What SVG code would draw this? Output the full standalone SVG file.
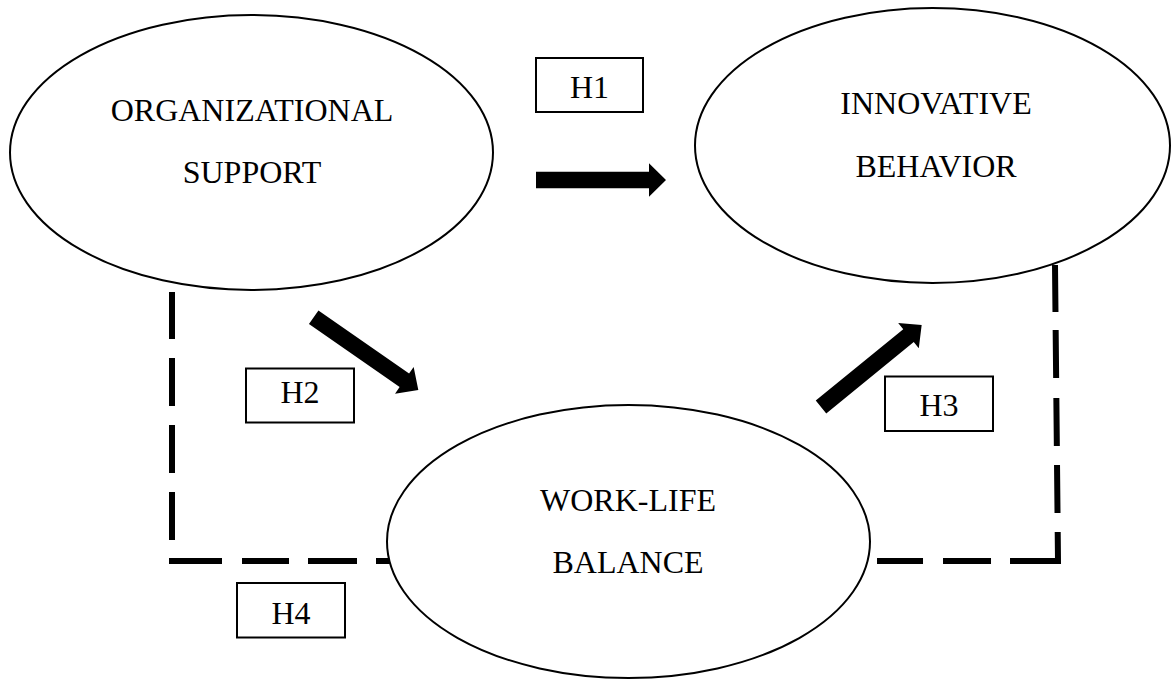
<svg xmlns="http://www.w3.org/2000/svg" width="1171" height="679" viewBox="0 0 1171 679">
<style>
.node{fill:#fff;stroke:#000;stroke-width:2}
.box{fill:#fff;stroke:#000;stroke-width:2}
.lbl{font-family:"Liberation Serif","Times New Roman",serif;font-size:32px;fill:#000;text-anchor:middle}
.dash{fill:none;stroke:#000;stroke-width:6}
.arrow{fill:#000;stroke:none}
</style>
<rect width="1171" height="679" fill="#fff"/>
<g id="connectors">
<path class="dash" d="M172,292 V561 H392" stroke-dasharray="47 19 48 19 48 19 48 18 53 20 47 19 49 19 50"/>
<path class="dash" d="M1055,265 L1058,561 H872" stroke-dasharray="47 18 48 20 48 19 48 19 77 19 48 20 46 20"/>
<polygon class="arrow" transform="translate(536,180)" points="0,-8.3 113,-8.3 113,-16.7 130,0 113,16.7 113,8.3 0,8.3"/>
<polygon class="arrow" transform="translate(313.7,317.3) rotate(34.8)" points="0,-8.3 110.4,-8.3 110.4,-16.3 127.4,0 110.4,16.3 110.4,8.3 0,8.3"/>
<polygon class="arrow" transform="translate(821,407) rotate(-39.2)" points="0,-8.3 112.9,-8.3 112.9,-16.3 129.9,0 112.9,16.3 112.9,8.3 0,8.3"/>
</g>
<g id="org-support">
<ellipse class="node" cx="251.5" cy="152.5" rx="241.5" ry="137.5"/>
<text class="lbl" x="252" y="120.7">ORGANIZATIONAL</text>
<text class="lbl" x="252" y="183.3">SUPPORT</text>
</g>
<g id="innovative-behavior">
<ellipse class="node" cx="932.5" cy="145.5" rx="237.5" ry="137.5"/>
<text class="lbl" x="936" y="114">INNOVATIVE</text>
<text class="lbl" x="936" y="176.7">BEHAVIOR</text>
</g>
<g id="work-life-balance">
<ellipse class="node" cx="628.5" cy="541.5" rx="241.5" ry="136.5"/>
<text class="lbl" x="628" y="510.7">WORK-LIFE</text>
<text class="lbl" x="628" y="572.7">BALANCE</text>
</g>
<g id="h1">
<rect class="box" x="536" y="58" width="107" height="54"/>
<text class="lbl" x="589.5" y="98.3">H1</text>
</g>
<g id="h2">
<rect class="box" x="246" y="368.5" width="108" height="54"/>
<text class="lbl" x="300" y="403.3">H2</text>
</g>
<g id="h3">
<rect class="box" x="885" y="376.5" width="108" height="54.5"/>
<text class="lbl" x="939" y="416">H3</text>
</g>
<g id="h4">
<rect class="box" x="237" y="583" width="108" height="54.5"/>
<text class="lbl" x="291" y="624">H4</text>
</g>
</svg>
